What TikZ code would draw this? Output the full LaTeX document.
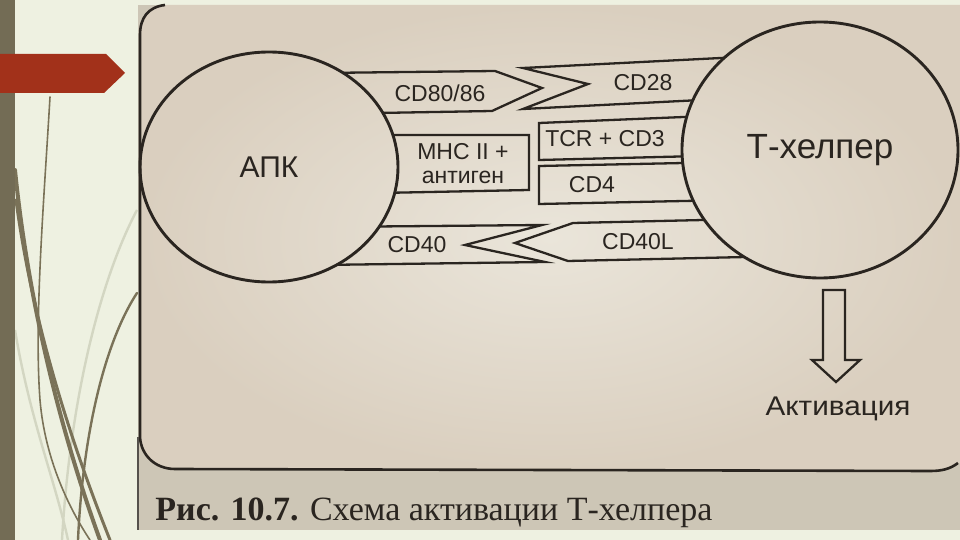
\documentclass[tikz,border=0pt]{standalone}
\usepackage{fontspec}
\setmainfont{Liberation Serif}
\newfontfamily\diagfont{Liberation Sans}
\usetikzlibrary{shapes.geometric}
\definecolor{slidebg}{HTML}{EEF1E1}
\definecolor{barc}{HTML}{736C55}
\definecolor{bannerc}{HTML}{A2311A}
\definecolor{grassc}{HTML}{7A7258}
\definecolor{grasslt}{HTML}{D3D6C2}
\definecolor{paperin}{HTML}{EAE5DA}
\definecolor{paperout}{HTML}{DACFBF}
\definecolor{grayc}{HTML}{CDC6B6}
\definecolor{inkc}{HTML}{2A2520}
\begin{document}
\begin{tikzpicture}[x=0.5pt,y=-0.5pt,
  bar/.style={draw=inkc, line width=1.15pt, line join=miter},
  lbl/.style={font=\diagfont\fontsize{11.5}{13.5}\selectfont, text=inkc, inner sep=0pt},
  cell/.style={ellipse, draw=inkc, line width=1.45pt, inner sep=0pt, text=inkc},
  grass/.style={draw=grassc, line cap=round}]
\useasboundingbox (0,0) rectangle (960,540);
% slide
\fill[slidebg] (0,0) rectangle (960,540);
\draw[grasslt, line width=1.2pt] (137,210) .. controls (100,280) and (70,400) .. (62,540);
\draw[grasslt, line width=1.2pt] (15,330) .. controls (30,420) and (55,480) .. (68,540);
\draw[grass, line width=0.8pt] (50,97) .. controls (44,200) and (34,320) .. (40,400) .. controls (45,460) and (70,510) .. (90,540);
\draw[grass, line width=2pt] (15,170) .. controls (28,300) and (60,430) .. (100,540);
\draw[grass, line width=1.5pt] (16,200) .. controls (32,320) and (70,440) .. (110,540);
\draw[grass, line width=1.2pt] (137,293) .. controls (100,350) and (82,450) .. (78,540);
\fill[barc] (0,0) rectangle (15,540);
\fill[bannerc] (0,54) -- (106,54) -- (125,73) -- (104,93) -- (0,93) -- cycle;
% photo
\fill[grayc] (138,5) rectangle (960,530);
\shade[inner color=paperin, outer color=paperout] (140,437) -- (140,35) .. controls (140,18) and (148,7) .. (165,5) -- (960,5) -- (960,463) .. controls (950,469) and (942,471) .. (930,471) -- (175,469) .. controls (155,469) and (141,455) .. (140,437) -- cycle;
\draw[inkc, line width=1.3pt] (165,5) .. controls (148,7) and (140,18) .. (140,35) -- (140,437) .. controls (141,455) and (155,469) .. (175,469) -- (930,471) .. controls (942,471) and (950,469) .. (958,463);
\draw[inkc!80, line width=1pt] (138,437) -- (138,530);
% bars
\begin{scope}[even odd rule]
\clip (0,0) rectangle (960,540) (269,167) ellipse [x radius=129, y radius=115] (820,150) ellipse [x radius=138, y radius=128];
\draw[bar] (320,73) -- (495,71) -- (542,88) -- (492,111) -- (320,114) -- cycle;
\draw[bar] (523,68) -- (780,55) -- (780,96) -- (523,109) -- (588,84) -- cycle;
\draw[bar] (330,135) -- (529,135) -- (529,190) -- (330,194) -- cycle;
\draw[bar] (539,123) -- (780,113) -- (780,154) -- (539,160) -- cycle;
\draw[bar] (539,166) -- (780,161) -- (780,199) -- (539,204) -- cycle;
\draw[bar] (320,227) -- (542,225) -- (465,245) -- (545,262) -- (320,265) -- cycle;
\draw[bar] (515,243) -- (573,223) -- (790,218) -- (790,256) -- (568,261) -- cycle;
\end{scope}
% cells
\node[cell, minimum width=129pt, minimum height=115pt, font=\diagfont\fontsize{15}{17}\selectfont] (apk) at (269,167) {АПК};
\node[cell, minimum width=138pt, minimum height=128pt, font=\diagfont\fontsize{17.5}{19}\selectfont] (th) at (820,150) {Т-хелпер};
% labels
\node[lbl] (l1) at (440,93) {CD80/86};
\node[lbl] (l2) at (643,83) {CD28};
\node[lbl, align=center, font=\diagfont\fontsize{11.5}{12}\selectfont] (l3) at (463,164) {MHC II +\\антиген};
\node[lbl] (l4) at (605,139) {TCR + CD3};
\node[lbl] (l5) at (592,185) {CD4};
\node[lbl] (l6) at (417,245) {CD40};
\node[lbl] (l7) at (638,242) {CD40L};
% activation arrow
\draw[bar] (823,290) -- (845,290) -- (845,360) -- (860,360) -- (836,382) -- (812,360) -- (823,360) -- cycle;
\node[lbl, font=\diagfont\fontsize{13.5}{15}\selectfont, xscale=1.1] (act) at (838,409) {Активация};
% caption
\node[anchor=base west, inner sep=0pt, text=inkc, font=\fontsize{17}{19}\selectfont] (cap) at (155,520) {\textbf{Рис. 10.7.} Схема активации Т-хелпера};
\end{tikzpicture}
\end{document}
